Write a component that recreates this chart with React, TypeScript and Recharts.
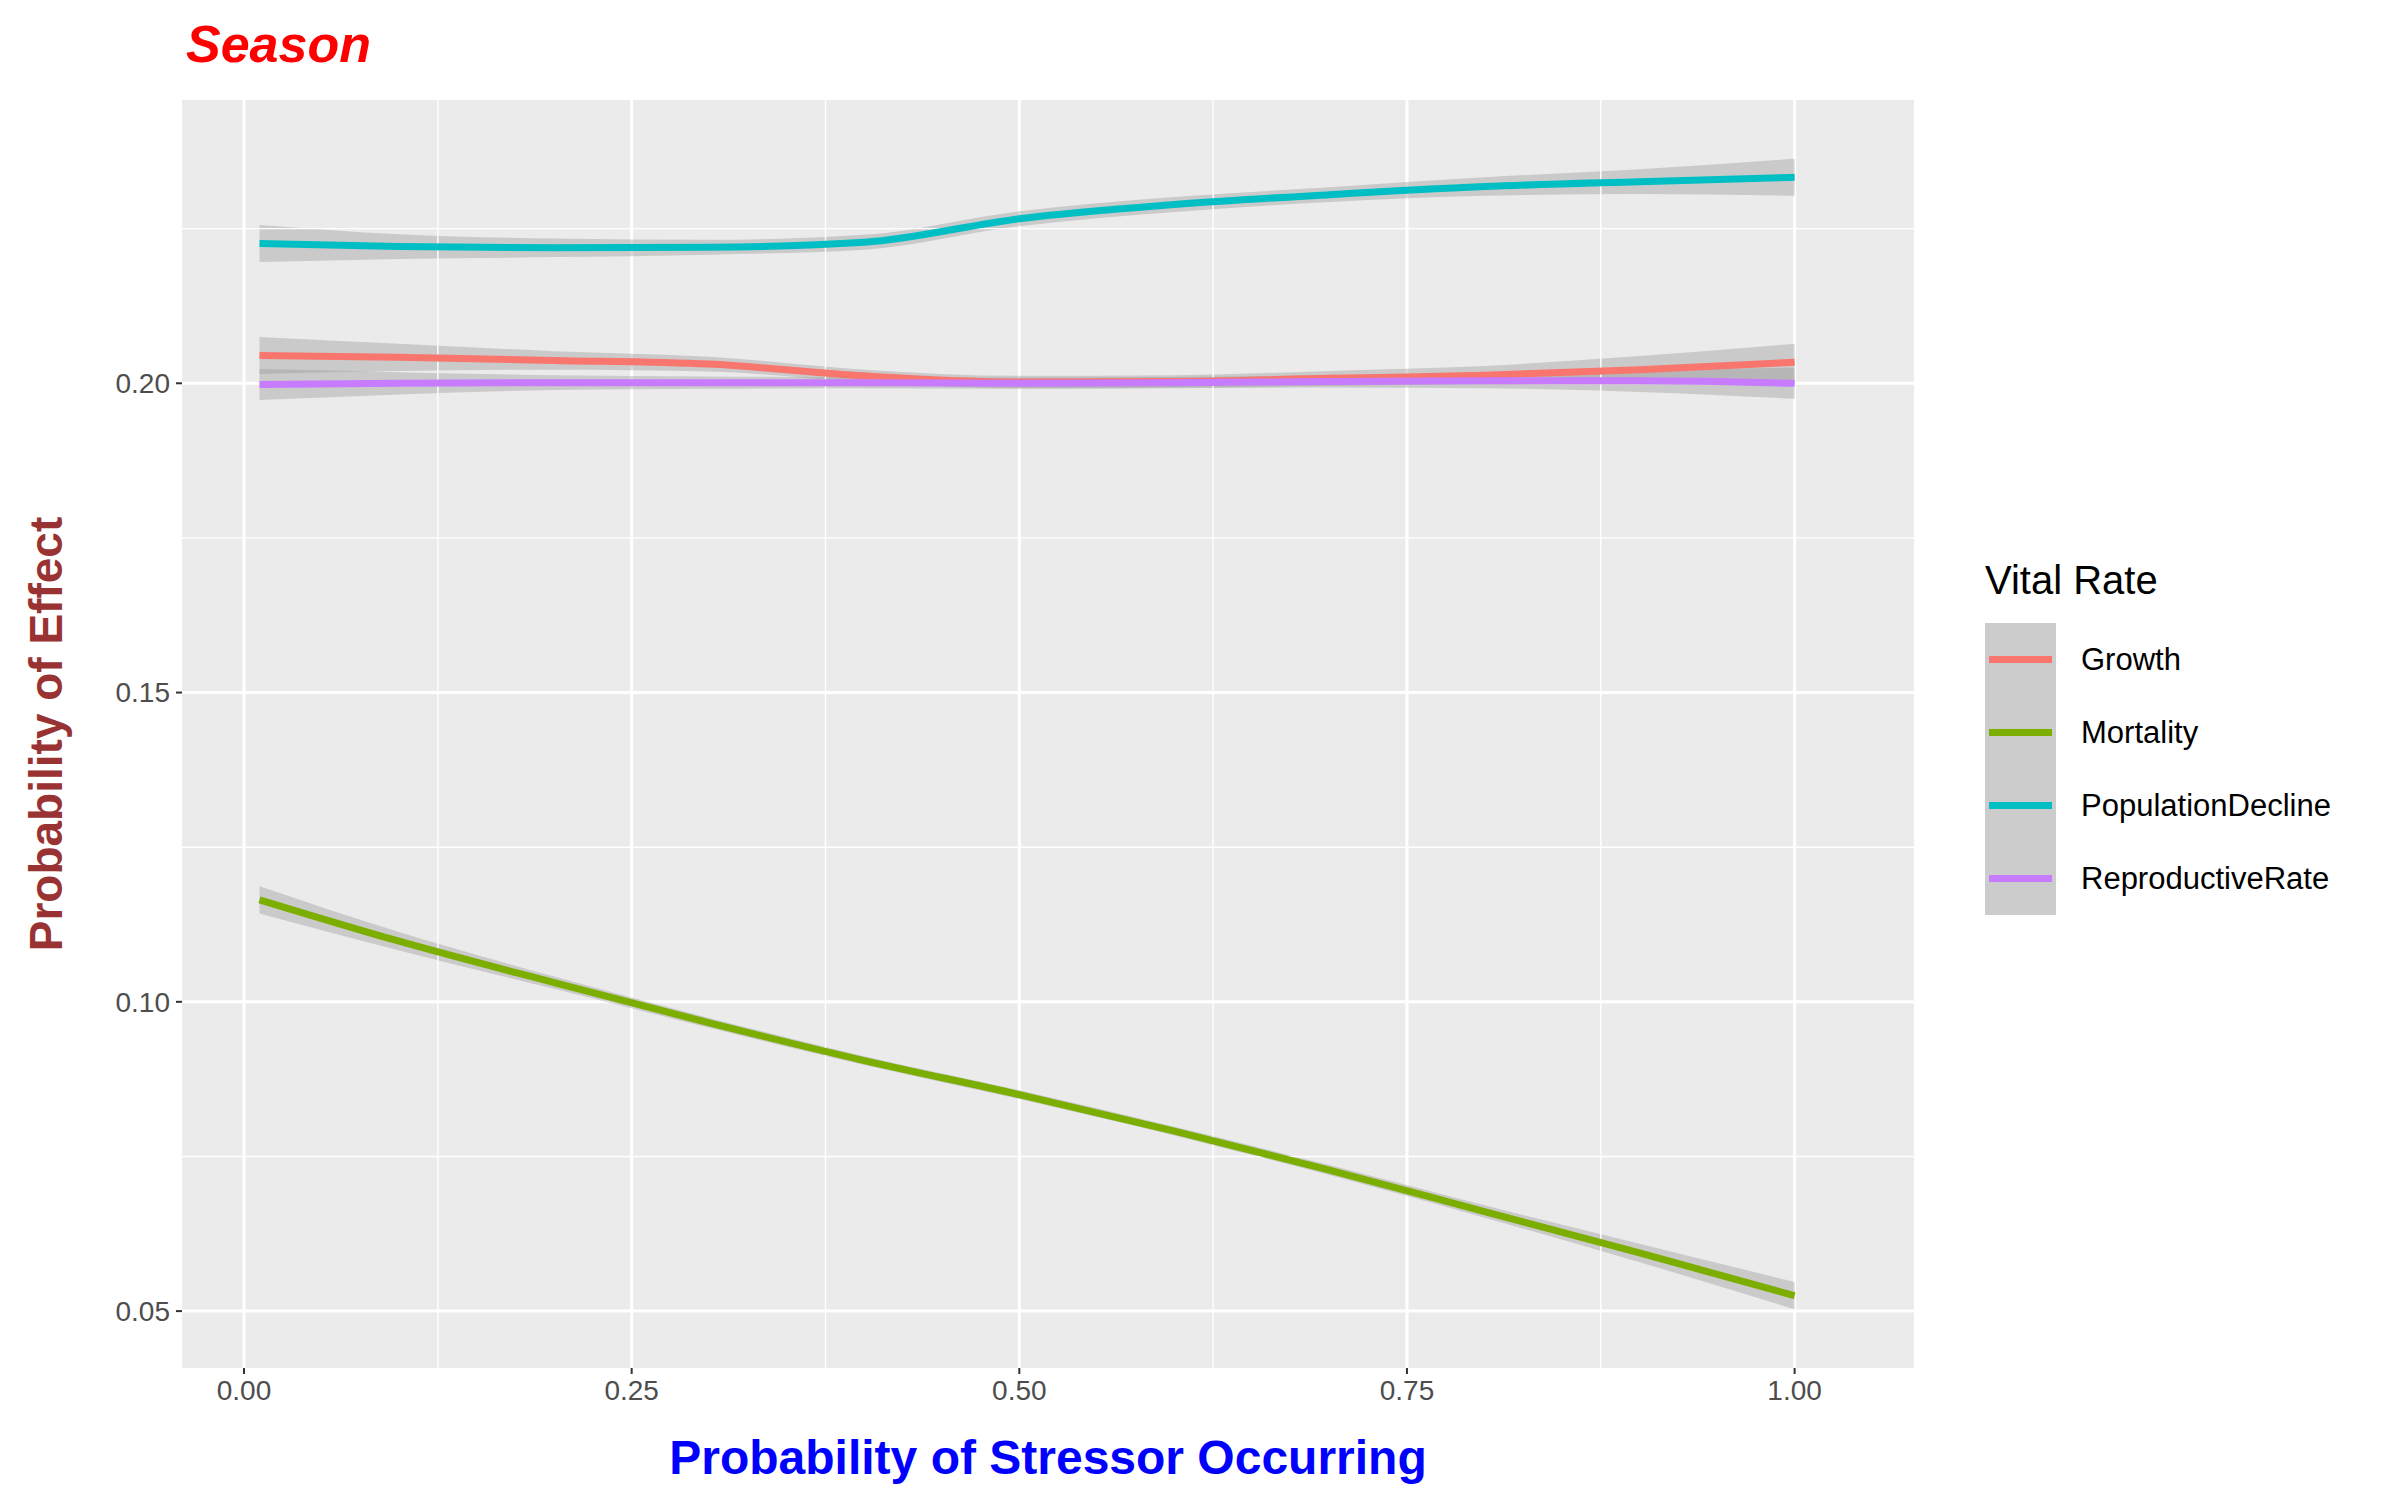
import React from 'react';
import { ComposedChart, Line, Area, XAxis, YAxis, CartesianGrid, ReferenceLine } from 'recharts';

const xs = [0.01, 0.1, 0.2, 0.3, 0.4, 0.5, 0.6, 0.7, 0.8, 0.9, 1.0];
const growth = [0.2045, 0.2042, 0.2037, 0.2031, 0.2012, 0.2002, 0.2003, 0.2008, 0.2013, 0.2022, 0.2034];
const growthSe = [0.003, 0.0022, 0.0015, 0.0012, 0.001, 0.001, 0.001, 0.0012, 0.0015, 0.0022, 0.003];
const mortality = [0.1165, 0.1098, 0.1031, 0.0966, 0.0905, 0.085, 0.0791, 0.0728, 0.0661, 0.0594, 0.0525];
const mortalitySe = [0.0022, 0.0015, 0.001, 0.0008, 0.0007, 0.0007, 0.0007, 0.0008, 0.001, 0.0015, 0.0022];
const popDecline = [0.2226, 0.2221, 0.2219, 0.222, 0.2228, 0.2266, 0.2289, 0.2305, 0.2318, 0.2326, 0.2333];
const popDeclineSe = [0.003, 0.002, 0.0015, 0.0012, 0.0012, 0.0012, 0.0012, 0.0012, 0.0015, 0.002, 0.003];
const repro = [0.1998, 0.2, 0.2001, 0.2001, 0.2001, 0.2, 0.2001, 0.2003, 0.2004, 0.2004, 0.2];
const reproSe = [0.0025, 0.0018, 0.0012, 0.001, 0.0009, 0.0009, 0.0009, 0.001, 0.0012, 0.0018, 0.0025];

const xTicks = [0, 0.25, 0.5, 0.75, 1.0];
const yTicks = [0.05, 0.1, 0.15, 0.2];
const xMinor = [0.125, 0.375, 0.625, 0.875];
const yMinor = [0.075, 0.125, 0.175, 0.225];

const series = [
  { key: 'g', name: 'Growth', color: '#F8766D', vals: growth, se: growthSe },
  { key: 'm', name: 'Mortality', color: '#7CAE00', vals: mortality, se: mortalitySe },
  { key: 'p', name: 'PopulationDecline', color: '#00BFC4', vals: popDecline, se: popDeclineSe },
  { key: 'r', name: 'ReproductiveRate', color: '#C77CFF', vals: repro, se: reproSe },
];

const rows = xs.map((x, i) => {
  const row: any = { x };
  series.forEach((s) => {
    row[s.key] = s.vals[i];
    row[s.key + 'band'] = [s.vals[i] - s.se[i], s.vals[i] + s.se[i]];
  });
  return row;
});

const font = '"Liberation Sans", Arial, sans-serif';

export default function App() {
  return (
    <div style={{ position: 'absolute', left: 0, top: 0, width: 2400, height: 1500, background: '#fff', fontFamily: font }}>
      <div style={{ position: 'absolute', left: 186, top: 14, color: '#ff0000', fontSize: 52, fontWeight: 'bold', fontStyle: 'italic' }}>Season</div>
      <ComposedChart width={2400} height={1500} data={rows} margin={{ top: 100, left: 82, right: 486, bottom: 0 }}>
        <CartesianGrid fill="#EBEBEB" stroke="#ffffff" strokeWidth={3} horizontalValues={yTicks} verticalValues={xTicks} />
        {xMinor.map((v) => <ReferenceLine key={'x' + v} x={v} stroke="#ffffff" strokeWidth={1.4} />)}
        {yMinor.map((v) => <ReferenceLine key={'y' + v} y={v} stroke="#ffffff" strokeWidth={1.4} />)}
        <XAxis type="number" dataKey="x" domain={[-0.04, 1.077]} ticks={xTicks} tickFormatter={(v) => v.toFixed(2)}
          height={132} axisLine={false} tickSize={6} tickLine={{ stroke: '#333', strokeWidth: 2 }}
          tick={{ fill: '#4d4d4d', fontSize: 28, fontFamily: font }} tickMargin={6} allowDataOverflow />
        <YAxis type="number" domain={[0.0408, 0.2458]} ticks={yTicks} tickFormatter={(v) => v.toFixed(2)}
          width={100} axisLine={false} tickSize={6} tickLine={{ stroke: '#333', strokeWidth: 2 }}
          tick={{ fill: '#4d4d4d', fontSize: 28, fontFamily: font }} tickMargin={6} allowDataOverflow />
        {series.map((s) => (
          <Area key={s.key + 'a'} dataKey={s.key + 'band'} type="monotone" fill="#999999" fillOpacity={0.4} stroke="none" isAnimationActive={false} />
        ))}
        {series.map((s) => (
          <Line key={s.key} dataKey={s.key} type="monotone" stroke={s.color} strokeWidth={7} dot={false} isAnimationActive={false} />
        ))}
      </ComposedChart>
      <div style={{ position: 'absolute', left: 0, top: 734, width: 92, height: 0 }}>
        <div style={{ position: 'absolute', left: 46, top: 0, transform: 'translate(-50%,-50%) rotate(-90deg)', whiteSpace: 'nowrap', color: '#993333', fontSize: 46, fontWeight: 'bold' }}>Probability of Effect</div>
      </div>
      <div style={{ position: 'absolute', left: 182, width: 1732, top: 1430, textAlign: 'center', color: '#0000ff', fontSize: 48, fontWeight: 'bold' }}>Probability of Stressor Occurring</div>
      <div style={{ position: 'absolute', left: 1985, top: 558, color: '#000', fontSize: 40 }}>Vital Rate</div>
      {series.map((s, i) => (
        <div key={s.key} style={{ position: 'absolute', left: 1985, top: 623 + i * 73, height: 73, display: 'flex', alignItems: 'center' }}>
          <div style={{ width: 71, height: 73, background: '#CCCCCC', position: 'relative' }}>
            <div style={{ position: 'absolute', left: 4, right: 4, top: 33, height: 7, background: s.color }} />
          </div>
          <div style={{ marginLeft: 25, fontSize: 31, color: '#000' }}>{s.name}</div>
        </div>
      ))}
    </div>
  );
}
